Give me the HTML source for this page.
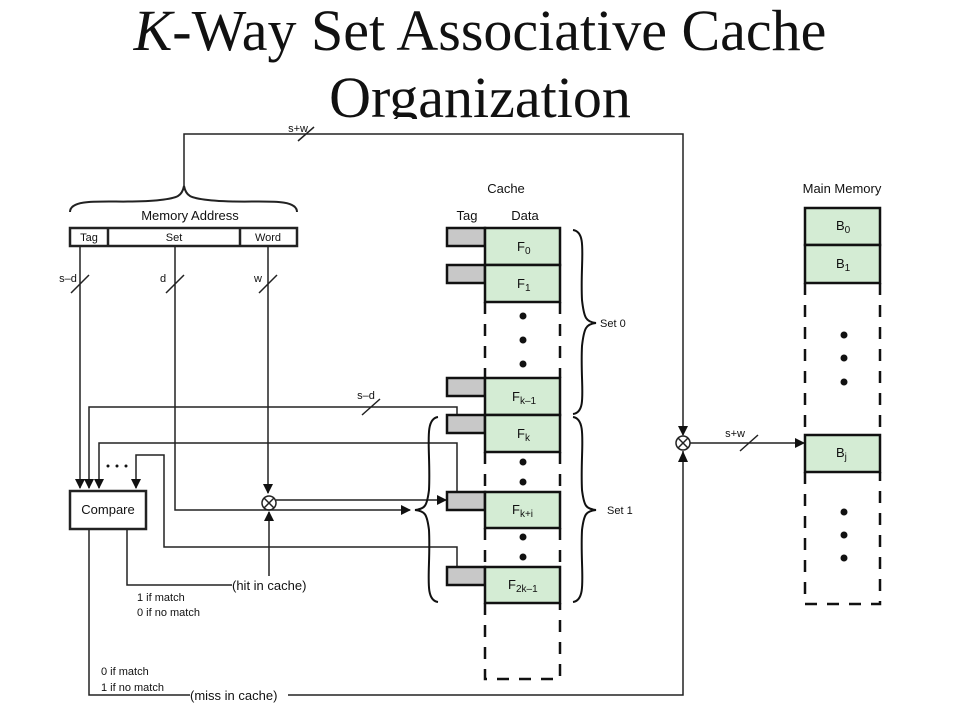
<!DOCTYPE html>
<html><head><meta charset="utf-8"><style>
body{margin:0;background:#fff;}
svg{display:block;}
.t{font-family:"Liberation Sans",sans-serif;font-size:13px;fill:#111;}
.s{font-family:"Liberation Sans",sans-serif;font-size:11px;fill:#111;}
</style></head><body>
<svg width="960" height="720" viewBox="0 0 960 720" xmlns="http://www.w3.org/2000/svg">
<defs><marker id="a" markerWidth="10" markerHeight="10" refX="9" refY="5" orient="auto" markerUnits="userSpaceOnUse"><path d="M0,0 L10,5 L0,10 z" fill="#111"/></marker></defs>
<text x="480" y="50" text-anchor="middle" font-family="Liberation Serif,serif" font-size="58" fill="#111"><tspan font-style="italic">K</tspan>-Way Set Associative Cache</text>
<text x="480" y="117" text-anchor="middle" font-family="Liberation Serif,serif" font-size="58" fill="#111">Organization</text>
<rect x="0" y="119" width="960" height="20" fill="#fff"/>
<g stroke="#222" fill="none" stroke-width="1.5">
<polyline points="184,186 184,134 683,134 683,435" marker-end="url(#a)"/>
<line x1="298" y1="141" x2="314" y2="127"/>
<path d="M70,212 C70,195 120,205 160,200 C178,198 182,196 184,186 C186,196 190,198 208,200 C248,205 297,195 297,212" stroke-width="2"/>
<rect x="70" y="228" width="227" height="18" stroke-width="2.5"/>
<line x1="108" y1="228" x2="108" y2="246" stroke-width="2.5"/>
<line x1="240" y1="228" x2="240" y2="246" stroke-width="2.5"/>
<line x1="80" y1="246" x2="80" y2="488" marker-end="url(#a)"/>
<line x1="71" y1="293" x2="89" y2="275"/>
<polyline points="175,246 175,510 410,510" marker-end="url(#a)"/>
<line x1="166" y1="293" x2="184" y2="275"/>
<line x1="268" y1="246" x2="268" y2="493" marker-end="url(#a)"/>
<line x1="259" y1="293" x2="277" y2="275"/>
<circle cx="269" cy="503" r="7"/>
<line x1="264" y1="498" x2="274" y2="508"/><line x1="274" y1="498" x2="264" y2="508"/>
<line x1="276" y1="500" x2="446" y2="500" marker-end="url(#a)"/>
<polyline points="269,576 269,512" marker-end="url(#a)"/>
<polyline points="457,418 457,407 89,407 89,488" marker-end="url(#a)"/>
<line x1="362" y1="415" x2="380" y2="399"/>
<polyline points="457,492 457,443 99,443 99,488" marker-end="url(#a)"/>
<polyline points="457,567 457,547 164,547 164,455 136,455 136,488" marker-end="url(#a)"/>
<rect x="70" y="491" width="76" height="38" stroke-width="2.5"/>
<polyline points="127,529 127,585 232,585"/>
<polyline points="89,529 89,695 190,695"/>
<polyline points="288,695 683,695 683,451"/>
<circle cx="683" cy="443" r="7" fill="#fff"/>
<line x1="678" y1="438" x2="688" y2="448"/><line x1="688" y1="438" x2="678" y2="448"/>
<line x1="690" y1="443" x2="804" y2="443" marker-end="url(#a)"/>
<line x1="740" y1="451" x2="758" y2="435"/>
</g>
<polygon points="683,451 678,462 688,462" fill="#111"/>
<g stroke="#111" stroke-width="2.5">
<rect x="447" y="228" width="38" height="18" fill="#c8c8c8"/>
<rect x="447" y="265" width="38" height="18" fill="#c8c8c8"/>
<rect x="447" y="378" width="38" height="18" fill="#c8c8c8"/>
<rect x="447" y="415" width="38" height="18" fill="#c8c8c8"/>
<rect x="447" y="492" width="38" height="18" fill="#c8c8c8"/>
<rect x="447" y="567" width="38" height="18" fill="#c8c8c8"/>
<rect x="485" y="228" width="75" height="37" fill="#d4ecd4"/>
<rect x="485" y="265" width="75" height="37" fill="#d4ecd4"/>
<rect x="485" y="378" width="75" height="37" fill="#d4ecd4"/>
<rect x="485" y="415" width="75" height="37" fill="#d4ecd4"/>
<rect x="485" y="492" width="75" height="36" fill="#d4ecd4"/>
<rect x="485" y="567" width="75" height="36" fill="#d4ecd4"/>
<g stroke-dasharray="12,10" fill="none">
<line x1="485" y1="302" x2="485" y2="378"/><line x1="560" y1="302" x2="560" y2="378"/>
<line x1="485" y1="452" x2="485" y2="492"/><line x1="560" y1="452" x2="560" y2="492"/>
<line x1="485" y1="528" x2="485" y2="567"/><line x1="560" y1="528" x2="560" y2="567"/>
<polyline points="485,603 485,679 560,679 560,603"/>
</g>
<rect x="805" y="208" width="75" height="37" fill="#d4ecd4"/>
<rect x="805" y="245" width="75" height="38" fill="#d4ecd4"/>
<rect x="805" y="435" width="75" height="37" fill="#d4ecd4"/>
<g stroke-dasharray="12,10" fill="none">
<line x1="805" y1="283" x2="805" y2="435"/><line x1="880" y1="283" x2="880" y2="435"/>
<polyline points="805,472 805,604 880,604 880,472"/>
</g>
</g>
<g fill="#111">
<circle cx="523" cy="316" r="3.5"/><circle cx="523" cy="340" r="3.5"/><circle cx="523" cy="364" r="3.5"/>
<circle cx="523" cy="462" r="3.5"/><circle cx="523" cy="482" r="3.5"/>
<circle cx="523" cy="537" r="3.5"/><circle cx="523" cy="557" r="3.5"/>
<circle cx="844" cy="335" r="3.5"/><circle cx="844" cy="358" r="3.5"/><circle cx="844" cy="382" r="3.5"/>
<circle cx="844" cy="512" r="3.5"/><circle cx="844" cy="535" r="3.5"/><circle cx="844" cy="558" r="3.5"/>
<circle cx="108" cy="466" r="1.5"/><circle cx="117" cy="466" r="1.5"/><circle cx="126" cy="466" r="1.5"/>
</g>
<g stroke="#111" stroke-width="2" fill="none">
<path d="M573,230 C588,232 580,260 582,300 C584,318 586,322 596,323 C586,324 584,328 582,346 C580,386 588,412 573,414"/>
<path d="M573,417 C588,419 580,450 582,490 C584,506 586,509 596,510 C586,511 584,514 582,530 C580,570 588,600 573,602"/>
<path d="M438,417 C423,419 431,450 429,490 C427,506 425,509 415,510 C425,511 427,514 429,530 C431,570 423,600 438,602"/>
</g>
<text class="t" x="190" y="220" text-anchor="middle" font-size="14">Memory Address</text>
<text class="s" x="89" y="241" text-anchor="middle" font-size="12">Tag</text>
<text class="s" x="174" y="241" text-anchor="middle" font-size="12">Set</text>
<text class="s" x="268" y="241" text-anchor="middle" font-size="12">Word</text>
<text class="s" x="298" y="132" text-anchor="middle">s+w</text>
<text class="s" x="68" y="282" text-anchor="middle">s–d</text>
<text class="s" x="163" y="282" text-anchor="middle">d</text>
<text class="s" x="258" y="282" text-anchor="middle">w</text>
<text class="s" x="366" y="399" text-anchor="middle">s–d</text>
<text class="t" x="108" y="514" text-anchor="middle">Compare</text>
<text class="t" x="232" y="590" font-size="14">(hit in cache)</text>
<text class="s" x="137" y="601">1 if match</text>
<text class="s" x="137" y="616">0 if no match</text>
<text class="s" x="101" y="675">0 if match</text>
<text class="s" x="101" y="691">1 if no match</text>
<text class="t" x="190" y="700" font-size="14">(miss in cache)</text>
<text class="t" x="506" y="193" text-anchor="middle" font-size="15">Cache</text>
<text class="t" x="467" y="220" text-anchor="middle" font-size="14">Tag</text>
<text class="t" x="525" y="220" text-anchor="middle" font-size="14">Data</text>
<text class="t" x="842" y="193" text-anchor="middle" font-size="15">Main Memory</text>
<text class="s" x="600" y="327">Set 0</text>
<text class="s" x="607" y="514">Set 1</text>
<text class="s" x="735" y="437" text-anchor="middle">s+w</text>
<text x="517" y="251" class="t">F<tspan font-size="10" dy="3">0</tspan></text>
<text x="517" y="288" class="t">F<tspan font-size="10" dy="3">1</tspan></text>
<text x="512" y="401" class="t">F<tspan font-size="10" dy="3">k–1</tspan></text>
<text x="517" y="438" class="t">F<tspan font-size="10" dy="3">k</tspan></text>
<text x="512" y="514" class="t">F<tspan font-size="10" dy="3">k+i</tspan></text>
<text x="508" y="589" class="t">F<tspan font-size="10" dy="3">2k–1</tspan></text>
<text x="836" y="230" class="t">B<tspan font-size="10" dy="3">0</tspan></text>
<text x="836" y="268" class="t">B<tspan font-size="10" dy="3">1</tspan></text>
<text x="836" y="457" class="t">B<tspan font-size="10" dy="3">j</tspan></text>
</svg>
</body></html>
